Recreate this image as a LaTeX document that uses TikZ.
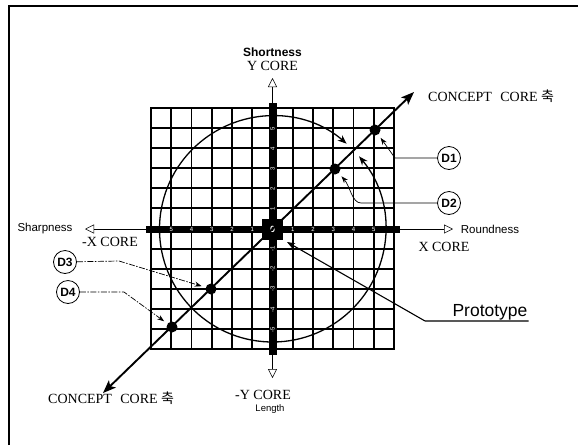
\documentclass[tikz,border=0pt]{standalone}
\usepackage{fontspec}
\setmainfont{Liberation Serif}
\newfontfamily\sansf{Liberation Sans}
\newfontfamily\krf{Noto Sans CJK KR}
\usetikzlibrary{arrows.meta}
\begin{document}
\begin{tikzpicture}[x=1pt,y=-1pt,
  frameline/.style={line width=1.4pt},
  gridline/.style={line width=1.9pt},
  axisline/.style={line width=1pt,-{Triangle[open,length=9pt,width=9pt,line width=0.5pt]}},
  diag/.style={line width=1.9pt,{Stealth[length=13pt,width=10pt,inset=3pt]}-{Stealth[length=13pt,width=10pt,inset=3pt]}},
  circ/.style={line width=1.3pt,{Stealth[length=9pt,width=7pt]}-{Stealth[length=9pt,width=7pt]}},
  dot/.style={circle,fill=black,inner sep=0pt,minimum size=11pt},
  lbl/.style={circle,draw,line width=0.8pt,minimum size=23pt,inner sep=0pt,font=\sansf\bfseries\fontsize{12}{12}\selectfont},
  leader/.style={line width=0.7pt,-{Stealth[length=7pt,width=5pt]},shorten >=4pt},
  dleader/.style={leader,dash pattern=on 6pt off 1.5pt on 1.5pt off 1.5pt},
  protoline/.style={line width=1.1pt,-{Stealth[length=8pt,width=6pt]}},
  tick/.style={text=white,inner sep=0pt,font=\sansf\fontsize{6}{6}\selectfont},
  zero/.style={text=white,inner sep=0pt,font=\sansf\bfseries\fontsize{9}{9}\selectfont},
  serifl/.style={inner sep=0pt,font=\fontsize{14}{14}\selectfont},
  sanss/.style={inner sep=0pt,font=\sansf\fontsize{11.5}{12}\selectfont},
  sansb/.style={inner sep=0pt,font=\sansf\bfseries\fontsize{12}{12}\selectfont},
  sanst/.style={inner sep=0pt,font=\sansf\fontsize{9.5}{10}\selectfont},
  protos/.style={inner sep=1pt,font=\sansf\fontsize{17.5}{18}\selectfont}
]
\useasboundingbox (0,0) rectangle (578,445);
% frame
\coordinate (fbl) at (9,445);
\coordinate (ftl) at (9,6);
\coordinate (ftr) at (578,6);
\draw[frameline] (fbl) -- (ftl) -- (ftr);

% grid
\foreach \i in {0,...,12} {
  \draw[gridline] ({151+\i*20.25},108) -- ({151+\i*20.25},349);
  \draw[gridline] (151,{108+\i*20.083}) -- (394,{108+\i*20.083});
}
\draw[gridline] (151,108) rectangle (394,349);

\coordinate (O) at (272.5,229);

% circle with arrows
\draw[circ] (O) ++(-40:113) arc[start angle=-40,end angle=311,radius=113];

% thick bars
\fill (146,225.5) rectangle (400,232.5);
\fill (268.5,103) rectangle (276.5,355);
\fill (262,219) rectangle (283,240);

% axis lines
\coordinate (xl) at (85,229);
\coordinate (xr) at (453,229);
\coordinate (yt) at (272.5,78);
\coordinate (yb) at (272.5,378);
\draw[axisline] (146,229) -- (xl);
\draw[axisline] (400,229) -- (xr);
\draw[axisline] (272.5,103) -- (yt);
\draw[axisline] (272.5,355) -- (yb);

% tick labels
\foreach \k in {1,...,5} {
  \node[tick] (tl\k) at ({272.5-\k*20.25},229) {\k};
  \node[tick] (tr\k) at ({272.5+\k*20.25},229) {\k};
  \node[tick,rotate=90] (tu\k) at (272.5,{229-\k*20.083}) {\k};
  \node[tick,rotate=90] (td\k) at (272.5,{229+\k*20.083}) {-\k};
}
\node[zero] (zero) at (272.5,229.5) {0};

% concept core diagonal
\coordinate (cc1) at (103,393);
\coordinate (cc2) at (414,92);
\draw[diag] (cc1) -- (cc2);

% dots
\node[dot] (d1) at (375,130) {};
\node[dot] (d2) at (335,169) {};
\node[dot] (d3) at (211,289) {};
\node[dot] (d4) at (172,327) {};

% circled labels
\node[lbl] (D1) at (449,158) {D1};
\node[lbl] (D2) at (449,203) {D2};
\node[lbl] (D3) at (65,262) {D3};
\node[lbl] (D4) at (68,292) {D4};

% leaders
\coordinate (k1) at (395,158);
\draw[leader] (D1) -- (k1) -- (d1);
\coordinate (k2) at (361,203);
\draw[leader] (D2) -- (k2) .. controls (352,203) and (350,186) .. (d2);
\coordinate (k3) at (119,261);
\draw[dleader] (D3) -- (k3) -- (d3);
\coordinate (k4) at (124,292);
\draw[dleader] (D4) -- (k4) -- (d4);

% prototype
\node[protos] (proto) at (490,312) {Prototype};
\coordinate (pu) at (425,321);
\coordinate (ptip) at (287,242);
\draw[line width=1.1pt] (proto.south east) -- (pu);
\draw[protoline] (pu) -- (ptip);

% texts
\node[sansb] (short) at (272.5,52) {Shortness};
\node[serifl] (ycore) at (272.5,66) {Y CORE};
\node[serifl,anchor=west] (cct) at (428,96) {CONCEPT\hspace{0.6em}CORE {\krf 축}};
\node[serifl,anchor=west] (ccb) at (48,398) {CONCEPT\hspace{0.6em}CORE {\krf 축}};
\node[sanss] (sharp) at (45,229) {Sharpness};
\node[sanss] (round) at (490,229) {Roundness};
\node[serifl] (mxcore) at (110,242) {-X CORE};
\node[serifl] (xcore) at (444,247) {X CORE};
\node[serifl] (mycore) at (263,395) {-Y CORE};
\node[sanst] (length) at (270,409) {Length};
\end{tikzpicture}
\end{document}
